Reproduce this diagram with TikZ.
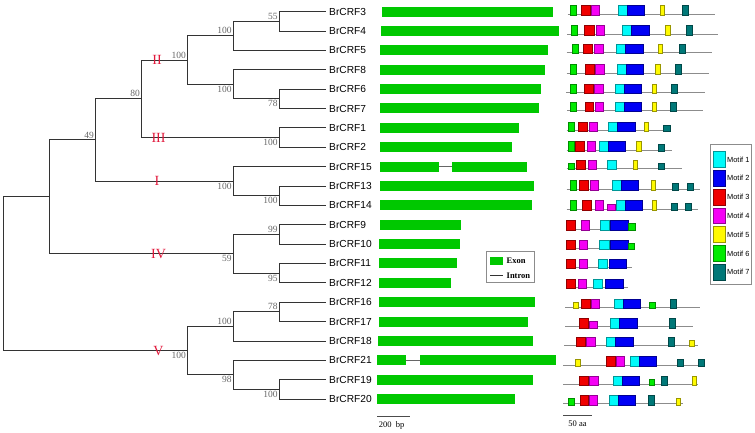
\documentclass[tikz,border=0pt]{standalone}
\usepackage{fontspec}
\setmainfont{Liberation Serif}
\setsansfont{Liberation Sans}

\definecolor{exongreen}{RGB}{0,200,0}
\definecolor{cladered}{RGB}{225,25,60}
\definecolor{mcyan}{RGB}{0,250,250}
\definecolor{mblue}{RGB}{0,0,245}
\definecolor{mred}{RGB}{240,0,0}
\definecolor{mpink}{RGB}{245,0,245}
\definecolor{myellow}{RGB}{255,250,0}
\definecolor{mgreen}{RGB}{0,235,0}
\definecolor{mteal}{RGB}{0,120,120}

\tikzset{
	branch/.style={draw=black!80, line width=0.8pt},
	leaf/.style={anchor=west, inner sep=3pt, font=\sffamily\fontsize{10.2}{12}\selectfont},
	boot/.style={inner sep=1.6pt, text=black!60, font=\fontsize{9.5}{10}\selectfont},
	clade/.style={inner sep=0pt, text=cladered, font=\fontsize{14}{14}\selectfont},
	exon/.style={fill=exongreen},
	intron/.style={draw=black!60, line width=1.2pt},
	backbone/.style={draw=black!45, line width=0.8pt},
	legbox/.style={draw=black!45, line width=0.7pt},
	legtext/.style={anchor=west, inner sep=0pt, font=\bfseries\fontsize{8.5}{9}\selectfont},
	scaletext/.style={inner sep=0pt, font=\fontsize{8.5}{9}\selectfont},
}

% one row of motifs: line y, start, end, colour/x0/x1/height
\newcommand{\motifrow}[4]{%
	\draw[backbone] (#2,#1) -- (#3,#1);
	\foreach \c/\a/\b/\h in {#4}
		\draw[fill=\c, draw=\c!60!black, line width=0.4pt] (\a,#1+1) rectangle (\b,#1-\h);
}

\begin{document}
\begin{tikzpicture}[x=1pt, y=-1pt]
	\useasboundingbox (0,0) rectangle (755,433);

	% Leaves
	\foreach \n/\y in {3/11.6, 4/31.0, 5/50.3, 8/69.7, 6/89.1, 7/108.5, 1/127.8, 2/147.2,
		15/166.6, 13/185.9, 14/205.3, 9/224.7, 10/244.0, 11/263.4, 12/282.8,
		16/302.2, 17/321.5, 18/340.9, 21/360.3, 19/379.6, 20/399.0}
		\node[leaf] (c\n) at (326,\y) {BrCRF\n};

	% Inner nodes
	\coordinate (nRoot) at (3.3,273.7);
	\coordinate (nA) at (49.3,196.8);
	\coordinate (nB) at (95.7,139.9);
	\coordinate (nC) at (141.7,98.75);
	\coordinate (nD) at (187.7,60.0);
	\coordinate (nE) at (233.3,35.8);
	\coordinate (nF) at (279.3,21.3);
	\coordinate (nG) at (233.3,84.25);
	\coordinate (nH) at (279.3,98.8);
	\coordinate (nJ) at (279.3,137.5);
	\coordinate (nK) at (233.3,181.1);
	\coordinate (nL) at (279.3,195.6);
	\coordinate (nM) at (233.3,253.7);
	\coordinate (nN) at (279.3,234.35);
	\coordinate (nO) at (279.3,273.1);
	\coordinate (nP) at (187.7,350.6);
	\coordinate (nQ) at (233.3,326.4);
	\coordinate (nR) at (279.3,311.85);
	\coordinate (nS) at (233.3,374.8);
	\coordinate (nT) at (279.3,389.3);

	% Branches
	\draw[branch] (nRoot) |- (nA) (nRoot) |- (nP)
		(nA) |- (nB) (nA) |- (nM)
		(nB) |- (nC) (nB) |- (nK)
		(nC) |- (nD) (nC) |- (nJ)
		(nD) |- (nE) (nD) |- (nG)
		(nE) |- (nF) (nE) |- (c5.west)
		(nF) |- (c3.west) (nF) |- (c4.west)
		(nG) |- (c8.west) (nG) |- (nH)
		(nH) |- (c6.west) (nH) |- (c7.west)
		(nJ) |- (c1.west) (nJ) |- (c2.west)
		(nK) |- (c15.west) (nK) |- (nL)
		(nL) |- (c13.west) (nL) |- (c14.west)
		(nM) |- (nN) (nM) |- (nO)
		(nN) |- (c9.west) (nN) |- (c10.west)
		(nO) |- (c11.west) (nO) |- (c12.west)
		(nP) |- (nQ) (nP) |- (nS)
		(nQ) |- (nR) (nQ) |- (c18.west)
		(nR) |- (c16.west) (nR) |- (c17.west)
		(nS) |- (c21.west) (nS) |- (nT)
		(nT) |- (c19.west) (nT) |- (c20.west);

	% Bootstrap values
	\node[boot, above left] (bF) at (nF) {55};
	\node[boot, above left] (bE) at (nE) {100};
	\node[boot, above left] (bD) at (nD) {100};
	\node[boot, below left] (bG) at (nG) {100};
	\node[boot, below left] (bH) at (nH) {78};
	\node[boot, above left] (bC) at (nC) {80};
	\node[boot, above left] (bB) at (nB) {49};
	\node[boot, below left] (bJ) at (nJ) {100};
	\node[boot, below left] (bK) at (nK) {100};
	\node[boot, below left] (bL) at (nL) {100};
	\node[boot, below left] (bM) at (nM) {59};
	\node[boot, above left] (bN) at (nN) {99};
	\node[boot, below left] (bO) at (nO) {95};
	\node[boot, below left] (bP) at (nP) {100};
	\node[boot, above left] (bQ) at (nQ) {100};
	\node[boot, above left] (bR) at (nR) {78};
	\node[boot, below left] (bS) at (nS) {98};
	\node[boot, below left] (bT) at (nT) {100};

	% Groups
	\node[clade] (gII) at (157,60.0) {II};
	\node[clade] (gIII) at (158.5,137.5) {III};
	\node[clade] (gI) at (157,181.1) {I};
	\node[clade] (gIV) at (158.5,253.7) {IV};
	\node[clade] (gV) at (158.5,350.6) {V};

	% Gene structures
	\foreach \y/\a/\b in {11.6/381.7/553.3, 31.0/381/559.3, 50.3/380/548.3, 69.7/380/545,
		89.1/380/540.7, 108.5/380/539.3, 127.8/380/519.3, 147.2/380/512.3,
		166.6/380/439, 166.6/452/527, 185.9/380/534.3, 205.3/380/532.3,
		224.7/380/461, 244.0/379/460, 263.4/379/457, 282.8/379/451.3,
		302.2/379/534.7, 321.5/379/528.3, 340.9/378/533.3,
		360.3/377/405.7, 360.3/420.3/555.5, 379.6/377/533, 399.0/377/515.3}
		\fill[exon] (\a,\y-5) rectangle (\b,\y+5);
	\draw[intron] (439,166.6) -- (452,166.6);
	\draw[intron] (405.7,360.3) -- (420.3,360.3);

	% Exon / intron legend
	\draw[legbox] (486,251.7) rectangle (534,282.3);
	\fill[exon] (490,257.3) rectangle (502.7,264.5);
	\draw[intron, line width=1pt, draw=black!80] (490,275.3) -- (502.7,275.3);
	\node[legtext] (tExon) at (506.5,261) {Exon};
	\node[legtext] (tIntron) at (506.5,276) {Intron};

	% 200 bp
	\draw[black!70, line width=0.6pt] (377.3,416) -- (410,416);
	\node[scaletext] (tBp) at (391.5,425.3) {200\ \ bp};

	% Motifs
	\motifrow{14}{567.7}{715}{mgreen/570/576/8.5, mred/581/589.7/8.5, mpink/591/599.3/8.5, mcyan/617.7/626.7/8.5, mblue/626.7/644/8.5, myellow/660/664.3/8.5, mteal/681.7/687.7/8.5}
	\motifrow{34}{567.3}{718.3}{mgreen/570.7/576.7/8.5, mred/584.3/593.7/8.5, mpink/595.7/604.3/8.5, mcyan/622/631.3/8.5, mblue/631.3/648.7/8.5, myellow/665.3/670.3/8.5, mteal/686/691.7/8.5}
	\motifrow{52.3}{566.7}{711.7}{mgreen/572.3/578/8.5, mred/583.3/592.3/8.5, mpink/594.3/602.7/8.5, mcyan/616.3/625.3/8.5, mblue/625.3/642.7/8.5, myellow/657.7/662.3/8.5, mteal/679/684.7/8.5}
	\motifrow{73}{566.7}{709}{mgreen/570/576/8.5, mred/585.3/594.3/8.5, mpink/595.3/604/8.5, mcyan/617/626/8.5, mblue/626/643.3/8.5, myellow/654.7/659.7/8.5, mteal/675/681/8.5}
	\motifrow{92.3}{566}{705}{mgreen/570/575.7/8.5, mred/584.3/593.3/8.5, mpink/594.3/602.7/8.5, mcyan/615/624/8.5, mblue/624/641/8.5, myellow/651.7/656/8.5, mteal/671.3/677.3/8.5}
	\motifrow{110.7}{567.3}{703.3}{mgreen/570/575.7/8.5, mred/584.7/593.3/8.5, mpink/595/603.3/8.5, mcyan/615/624/8.5, mblue/624/641/8.5, myellow/651.7/656.3/8.5, mteal/669.7/675.7/8.5}
	\motifrow{130.7}{566.7}{671}{mgreen/568.3/574/8.5, mred/578.3/587/8.5, mpink/589/597.3/8.5, mcyan/608.3/617.3/8.5, mblue/617.3/634.7/8.5, myellow/643.7/648.3/8.5, mteal/663.3/669.7/5.5}
	\motifrow{150}{566.7}{671.7}{mgreen/568.3/574/8.5, mred/575/583.7/8.5, mpink/586.7/594.7/8.5, mcyan/599.3/608.3/8.5, mblue/608.3/625.3/8.5, myellow/636.3/640.7/8.5, mteal/657.7/663.7/5.5}
	\motifrow{168.3}{566.7}{681.7}{mgreen/568.3/574/5.5, mred/576.3/585.3/8.5, mpink/588/596.3/8.5, mcyan/607/615.7/8.5, myellow/632.7/637.3/8.5, mteal/658.3/664.3/5.5}
	\motifrow{189}{566.7}{700}{mgreen/570/576/8.5, mred/579.3/588.3/8.5, mpink/590.3/598.3/8.5, mcyan/612.3/621.3/8.5, mblue/621.3/638.3/8.5, myellow/650.7/655.3/8.5, mteal/671.7/678/5.5, mteal/687/693/5.5}
	\motifrow{209}{566.7}{698.3}{mgreen/570.3/576.3/8.5, mred/581.7/590.7/8.5, mpink/595/603.3/8.5, mpink/607.3/615.3/5, mcyan/615.7/624.7/8.5, mblue/624.7/642/8.5, myellow/651.7/656.3/8.5, mteal/671/677.3/5.5, mteal/685/691.3/5.5}
	\motifrow{229}{566}{635}{mred/566/574.7/8.5, mpink/580.7/588.7/8.5, mcyan/600.3/609.3/8.5, mblue/610.3/628.3/8.5, mgreen/628.3/635/5.5}
	\motifrow{248.3}{566}{634.3}{mred/566/574.7/8.5, mpink/578.7/587/8.5, mcyan/599.3/608.7/8.5, mblue/610/627.7/8.5, mgreen/627.7/634.3/5.5}
	\motifrow{267.3}{566}{631.7}{mred/566/574.7/8.5, mpink/579.3/587.3/8.5, mcyan/598.3/607.3/8.5, mblue/608.7/626.3/8.5}
	\motifrow{287.3}{566}{627.7}{mred/566/574.7/8.5, mpink/577.7/586/8.5, mcyan/593.3/602/8.5, mblue/605.3/623/8.5}
	\motifrow{307.3}{565}{699.7}{myellow/573.3/577.7/5.5, mred/581/589.7/8.5, mpink/591/599.3/8.5, mcyan/613.7/622.7/8.5, mblue/622.7/639.7/8.5, mgreen/649.3/655/5.5, mteal/669.7/675.7/8.5}
	\motifrow{326.7}{565}{693.3}{mred/579/587.7/8.5, mpink/588.7/596.7/5.5, mcyan/610.3/619.3/8.5, mblue/619.3/636.7/8.5, mteal/669/675/8.5}
	\motifrow{345.3}{564}{698.3}{mred/576.3/585.3/8.5, mpink/586.3/595/8.5, mcyan/606.3/615.3/8.5, mblue/615.3/632.7/8.5, mteal/668.3/674.3/8.5, myellow/689.3/693.7/5.5}
	\motifrow{365}{563}{704.3}{myellow/575/579.7/5.5, mred/605.7/614.7/8.5, mpink/615.7/624/8.5, mcyan/630.3/639.3/8.5, mblue/639.3/656.3/8.5, mteal/677/683/5.5, mteal/698.3/704.3/5.5}
	\motifrow{384.3}{563}{698.3}{mred/579.3/588.3/8.5, mpink/589.3/597.7/8.5, mcyan/613/622.3/8.5, mblue/622.3/639.3/8.5, mgreen/649/654.3/5.5, mteal/661/667.3/8.5, myellow/691.7/696.3/8.5}
	\motifrow{403.7}{563}{682.7}{mgreen/568.3/574.3/5.5, mred/579.7/588.3/8.5, mpink/588.7/597/8.5, mcyan/609/618/8.5, mblue/618/635.3/8.5, mteal/648/654/8.5, myellow/676/680.3/5.5}

	% 50 aa
	\draw[black!70, line width=0.6pt] (563,415) -- (591.7,415);
	\node[scaletext] (tAa) at (577.5,423.3) {50 aa};

	% Motif legend
	\draw[legbox] (710.7,144.7) rectangle (751,284.7);
	\foreach \c [count=\i] in {mcyan,mblue,mred,mpink,myellow,mgreen,mteal} {
		\draw[fill=\c, draw=\c!60!black, line width=0.4pt] (713.3,151.3+18.8*\i-18.8) rectangle (725,167.1+18.8*\i-18.8);
		\node[anchor=west, inner sep=0pt, font=\sffamily\fontsize{7.4}{8}\selectfont] (m\i) at (727,159.4+18.8*\i-18.8) {Motif \i};
	}
\end{tikzpicture}
\end{document}
